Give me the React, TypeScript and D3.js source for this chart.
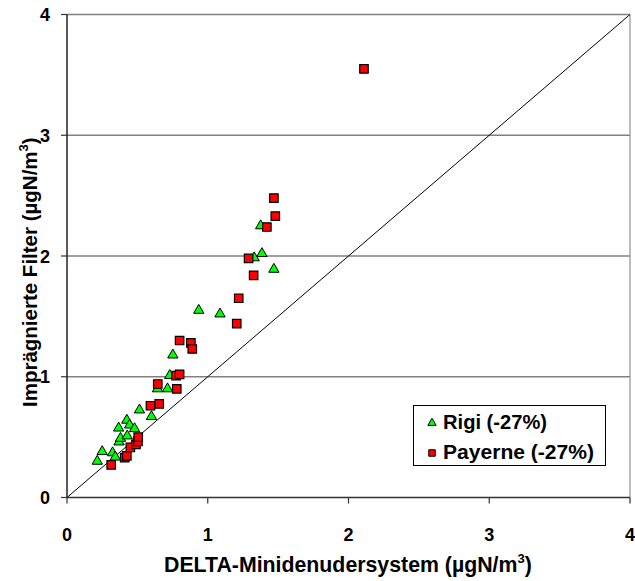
import React from "react";
import * as d3 from "d3";

const rigiX = [0.215, 0.25, 0.324, 0.343, 0.37, 0.38, 0.367, 0.428, 0.425, 0.445, 0.48, 0.515, 0.6, 0.643, 0.714, 0.73, 0.752, 0.936, 1.087, 1.33, 1.385, 1.47, 1.376];
const rigiY = [0.3, 0.38, 0.37, 0.335, 0.46, 0.49, 0.575, 0.51, 0.64, 0.6, 0.57, 0.725, 0.67, 0.9, 0.9, 1.01, 1.18, 1.55, 1.52, 1.985, 2.02, 1.89, 2.25];

const payX = [0.314, 0.41, 0.425, 0.45, 0.49, 0.504, 0.506, 0.593, 0.655, 0.645, 0.78, 0.775, 0.8, 0.8, 0.88, 0.89, 1.206, 1.22, 1.326, 1.29, 1.42, 1.48, 1.47, 2.11];
const payY = [0.27, 0.33, 0.345, 0.415, 0.44, 0.465, 0.5, 0.76, 0.775, 0.94, 0.9, 1.01, 1.02, 1.3, 1.28, 1.23, 1.44, 1.65, 1.84, 1.98, 2.24, 2.33, 2.48, 3.55];

const xTicks = [0, 1, 2, 3, 4];
const yTicks = [0, 1, 2, 3, 4];
const seriesNames = ["Rigi (-27%)", "Payerne (-27%)"];
const xTitle = "DELTA-Minidenudersystem (µgN/m";
const yTitle = "Imprägnierte Filter (µgN/m";

const W = 635;
const H = 581;
const FONT = "'Liberation Sans', Arial, sans-serif";

export default function App() {
  const x = d3.scaleLinear().domain([0, 4]).range([67, 630]);
  const y = d3.scaleLinear().domain([0, 4]).range([497.5, 14.5]);
  const tri = d3.symbol().type(d3.symbolTriangle).size(46)() as string;
  const sq = d3.symbol().type(d3.symbolSquare).size(72)() as string;
  const triL = d3.symbol().type(d3.symbolTriangle).size(30)() as string;
  const sqL = d3.symbol().type(d3.symbolSquare).size(42)() as string;
  const diag = d3.line<number>().x((d) => x(d)).y((d) => y(d))([0, 4]) as string;

  return (
    <svg width={W} height={H} style={{ position: "absolute", left: 0, top: 0 }} fontFamily={FONT}>
      <rect x={0} y={0} width={W} height={H} fill="#fff" />
      {yTicks.filter((t) => t > 0).map((t) => (
        <line key={"g" + t} x1={x(0)} x2={x(4)} y1={y(t)} y2={y(t)} stroke="#808080" strokeWidth={1.3} />
      ))}
      <line x1={x(4)} x2={x(4)} y1={y(4)} y2={y(0)} stroke="#9a9a9a" strokeWidth={1.3} />
      <path d={diag} stroke="#000" strokeWidth={1} fill="none" />
      <line x1={x(0)} x2={x(4)} y1={y(0)} y2={y(0)} stroke="#333" strokeWidth={1.5} />
      <line x1={x(0)} x2={x(0)} y1={y(0)} y2={y(4)} stroke="#000" strokeWidth={1.3} />
      {xTicks.map((t) => (
        <g key={"xt" + t}>
          <line x1={x(t)} x2={x(t)} y1={y(0)} y2={y(0) + 6} stroke="#333" strokeWidth={1.2} />
          <text x={x(t)} y={541} textAnchor="middle" fontWeight="bold" fontSize={18}>{t}</text>
        </g>
      ))}
      {yTicks.map((t) => (
        <g key={"yt" + t}>
          <line x1={x(0) - 6} x2={x(0)} y1={y(t)} y2={y(t)} stroke="#333" strokeWidth={1.2} />
          <text x={50} y={y(t) + 6.5} textAnchor="end" fontWeight="bold" fontSize={18}>{t}</text>
        </g>
      ))}
      <text x={164} y={572} fontWeight="bold" fontSize={21.3}>
        {xTitle}
        <tspan fontSize={13} dy={-9}>3</tspan>
        <tspan dy={9}>)</tspan>
      </text>
      <text transform="translate(37,407) rotate(-90)" fontWeight="bold" fontSize={20.5}>
        {yTitle}
        <tspan fontSize={13} dy={-9}>3</tspan>
        <tspan dy={9}>)</tspan>
      </text>
      {rigiX.map((v, i) => (
        <path key={"r" + i} d={tri} transform={`translate(${x(v)},${y(rigiY[i])})`} fill="#00ff00" stroke="#000" strokeWidth={1} />
      ))}
      {payX.map((v, i) => (
        <path key={"p" + i} d={sq} transform={`translate(${x(v)},${y(payY[i])})`} fill="#ff0000" stroke="#000" strokeWidth={1.2} />
      ))}
      <rect x={413.5} y={405.5} width={192} height={60} fill="#fff" stroke="#000" strokeWidth={1} />
      <path d={triL} transform="translate(432,423)" fill="#00ff00" stroke="#000" strokeWidth={1} />
      <text x={443} y={429} fontWeight="bold" fontSize={20.5} textLength={104} lengthAdjust="spacingAndGlyphs">{seriesNames[0]}</text>
      <path d={sqL} transform="translate(432,453)" fill="#ff0000" stroke="#000" strokeWidth={1} />
      <text x={443} y={459} fontWeight="bold" fontSize={20.5} textLength={151} lengthAdjust="spacingAndGlyphs">{seriesNames[1]}</text>
    </svg>
  );
}
